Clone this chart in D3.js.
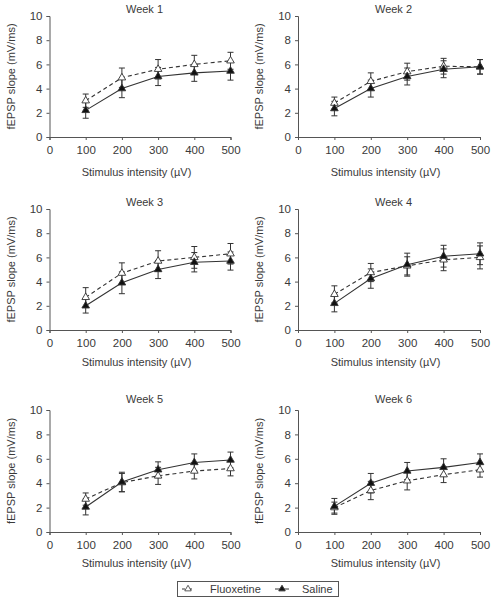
<!DOCTYPE html>
<html><head><meta charset="utf-8">
<script src="https://cdn.jsdelivr.net/npm/d3@7"></script>
<style>
html,body{margin:0;padding:0;background:#fff;}
svg text{font-family:"Liberation Sans",Arial,sans-serif;fill:#3a3a3a;}
</style></head>
<body><svg id="c" width="494" height="600"></svg>
<script>
// ---- data ----
const intensities = [100, 200, 300, 400, 500];
const weekTitles = ["Week 1", "Week 2", "Week 3", "Week 4", "Week 5", "Week 6"];
const fluoxetineMean = [
  [3.0, 4.9, 5.6, 6.0, 6.3],
  [2.8, 4.6, 5.4, 5.85, 5.8],
  [2.7, 4.7, 5.7, 6.0, 6.3],
  [2.95, 4.75, 5.3, 5.8, 6.0],
  [2.7, 4.05, 4.6, 5.0, 5.2],
  [2.0, 3.4, 4.2, 4.7, 5.1]
];
const fluoxetineErr = [
  [0.55, 0.8, 0.8, 0.75, 0.7],
  [0.5, 0.7, 0.7, 0.65, 0.6],
  [0.8, 0.85, 0.85, 0.9, 0.85],
  [0.7, 0.75, 0.75, 0.9, 0.95],
  [0.5, 0.75, 0.7, 0.65, 0.6],
  [0.45, 0.75, 0.75, 0.65, 0.6]
];
const salineMean = [
  [2.2, 4.0, 5.0, 5.3, 5.45],
  [2.35, 4.0, 5.0, 5.6, 5.8],
  [2.0, 3.9, 5.0, 5.6, 5.7],
  [2.2, 4.25, 5.4, 6.1, 6.3],
  [2.05, 4.1, 5.1, 5.7, 5.9],
  [2.1, 4.0, 5.0, 5.3, 5.7]
];
const salineErr = [
  [0.65, 0.75, 0.75, 0.7, 0.75],
  [0.6, 0.7, 0.7, 0.7, 0.6],
  [0.6, 0.9, 0.75, 0.8, 0.75],
  [0.7, 0.8, 0.95, 0.9, 0.9],
  [0.65, 0.8, 0.65, 0.7, 0.65],
  [0.65, 0.8, 0.7, 0.7, 0.7]
];
const xTicks = [0, 100, 200, 300, 400, 500];
const yTicks = [0, 2, 4, 6, 8, 10];
const xLabel = "Stimulus intensity (\u00b5V)";
const yLabel = "fEPSP slope (mV/ms)";
const legendLabels = ["Fluoxetine", "Saline"];

// ---- layout ----
const cols = [{x0: 49.5, x1: 230.5}, {x0: 298, x1: 480}];
const rows = [
  {yTop: 16, yBot: 137, titleY: 12.5, xLabY: 176},
  {yTop: 209, yBot: 330, titleY: 205.5, xLabY: 366},
  {yTop: 410, yBot: 532, titleY: 403, xLabY: 567}
];
const ink = "#3a3a3a";
const svg = d3.select("#c");
const tri = d3.symbol().type(d3.symbolTriangle).size(25);

weekTitles.forEach((title, i) => {
  const c = cols[i % 2], r = rows[Math.floor(i / 2)];
  const x = d3.scaleLinear().domain([0, 500]).range([c.x0, c.x1]);
  const y = d3.scaleLinear().domain([0, 10]).range([r.yBot, r.yTop]);
  const g = svg.append("g");
  const mid = (c.x0 + c.x1) / 2;

  const xa = g.append("g").attr("transform", `translate(0,${r.yBot})`)
    .call(d3.axisBottom(x).tickValues(xTicks).tickSize(3).tickPadding(6).tickFormat(d3.format("d")));
  const ya = g.append("g").attr("transform", `translate(${c.x0},0)`)
    .call(d3.axisLeft(y).tickValues(yTicks).tickSize(3).tickPadding(4).tickFormat(d3.format("d")));
  [xa, ya].forEach(a => {
    a.select(".domain").attr("stroke", "#555").attr("stroke-width", 1);
    a.selectAll(".tick line").attr("stroke", "#555");
    a.selectAll("text").attr("font-size", 11.5).attr("fill", ink)
      .style("font-family", '"Liberation Sans",Arial,sans-serif');
  });

  g.append("text").attr("x", mid + 4.5).attr("y", r.titleY)
    .attr("text-anchor", "middle").attr("font-size", 11).text(title);
  g.append("text").attr("x", mid - 3.5).attr("y", r.xLabY)
    .attr("text-anchor", "middle").attr("font-size", 11).text(xLabel);
  g.append("text").attr("transform", `translate(${c.x0 - 35},${(r.yTop + r.yBot) / 2}) rotate(-90)`)
    .attr("text-anchor", "middle").attr("font-size", 11).text(yLabel);

  const series = [
    {m: fluoxetineMean[i], e: fluoxetineErr[i], dash: "4,3", fill: "#fff"},
    {m: salineMean[i], e: salineErr[i], dash: null, fill: "#111"}
  ];
  series.forEach(s => {
    const pts = intensities.map((v, k) => ({x: v, y: s.m[k], e: s.e[k]}));
    const eb = g.append("g").attr("stroke", "#333").attr("stroke-width", 1);
    pts.forEach(p => {
      eb.append("line").attr("x1", x(p.x)).attr("x2", x(p.x)).attr("y1", y(p.y - p.e)).attr("y2", y(p.y + p.e));
      [p.y - p.e, p.y + p.e].forEach(v => eb.append("line")
        .attr("x1", x(p.x) - 3).attr("x2", x(p.x) + 3).attr("y1", y(v)).attr("y2", y(v)));
    });
    g.append("path").datum(pts)
      .attr("d", d3.line().x(p => x(p.x)).y(p => y(p.y)))
      .attr("fill", "none").attr("stroke", "#333").attr("stroke-width", 1.1)
      .attr("stroke-dasharray", s.dash);
  });
  series.forEach(s => {
    g.append("g").selectAll("path").data(intensities.map((v, k) => ({x: v, y: s.m[k]})))
      .join("path").attr("d", tri)
      .attr("transform", p => `translate(${x(p.x)},${y(p.y)})`)
      .attr("fill", s.fill).attr("stroke", "#333").attr("stroke-width", 0.9);
  });
});

// ---- legend ----
const lg = svg.append("g");
lg.append("rect").attr("x", 177.5).attr("y", 581.5).attr("width", 161).attr("height", 15)
  .attr("fill", "#fff").attr("stroke", "#555").attr("stroke-width", 1);
const ly = 589;
lg.append("line").attr("x1", 182).attr("x2", 194).attr("y1", ly).attr("y2", ly)
  .attr("stroke", "#333").attr("stroke-dasharray", "3,4");
lg.append("path").attr("d", d3.symbol().type(d3.symbolTriangle).size(18))
  .attr("transform", `translate(188,${ly})`).attr("fill", "#fff").attr("stroke", "#333").attr("stroke-width", 0.8);
lg.append("text").attr("x", 210).attr("y", ly + 4).attr("font-size", 11).text(legendLabels[0]);
lg.append("line").attr("x1", 275).attr("x2", 289).attr("y1", ly).attr("y2", ly).attr("stroke", "#333");
lg.append("path").attr("d", d3.symbol().type(d3.symbolTriangle).size(18))
  .attr("transform", `translate(282,${ly})`).attr("fill", "#111").attr("stroke", "#333");
lg.append("text").attr("x", 302).attr("y", ly + 4).attr("font-size", 11).text(legendLabels[1]);
</script></body></html>
